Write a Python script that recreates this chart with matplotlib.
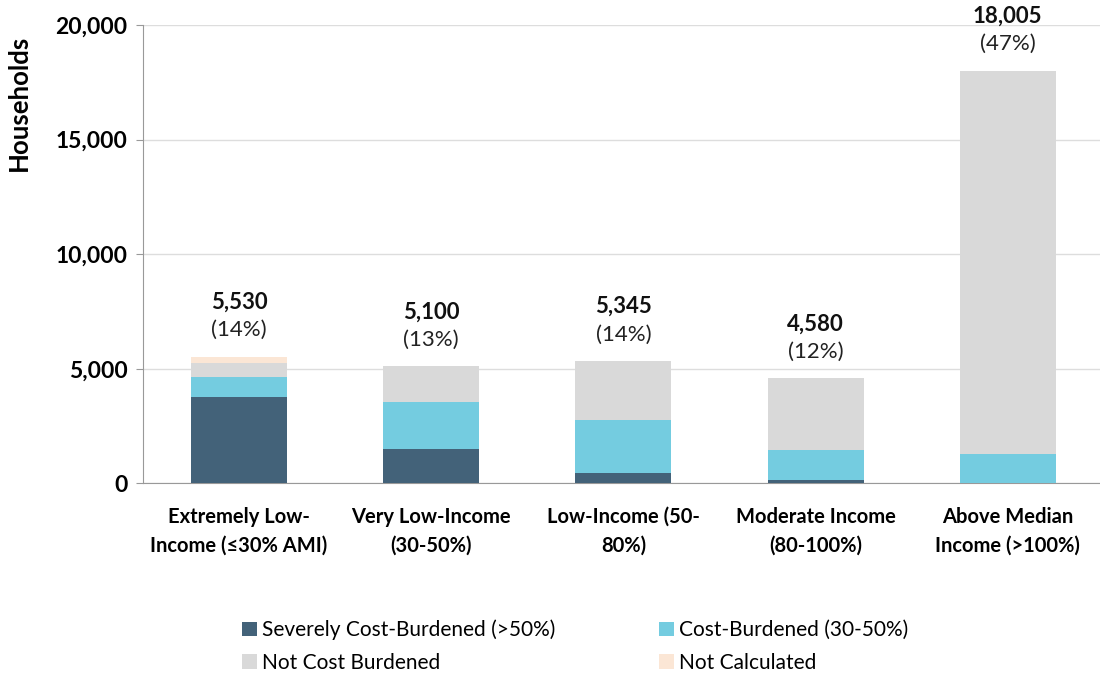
import matplotlib.pyplot as plt

plt.rcParams['font.family'] = ['Lato', 'DejaVu Sans']

categories = ["Extremely Low-\nIncome (≤30% AMI)", "Very Low-Income\n(30-50%)",
              "Low-Income (50-\n80%)", "Moderate Income\n(80-100%)",
              "Above Median\nIncome (>100%)"]
totals = [5530, 5100, 5345, 4580, 18005]

severe = [3750, 1500, 470, 130, 25]
burdened = [880, 2040, 2280, 1310, 1255]
not_burdened = [610, 1560, 2595, 3140, 16725]
not_calc = [290, 0, 0, 0, 0]

series = [
    ("Severely Cost-Burdened (>50%)", severe, "#436279"),
    ("Cost-Burdened (30-50%)", burdened, "#74CCE0"),
    ("Not Cost Burdened", not_burdened, "#D9D9D9"),
    ("Not Calculated", not_calc, "#FBE6D5"),
]

fig = plt.figure(figsize=(11, 6.75), dpi=100)
ax = fig.add_axes([0.13, 0.284, 0.87, 0.679])

x = range(len(categories))
bottom = [0] * len(categories)
bars = []
for name, vals, color in series:
    bars.append(ax.bar(x, vals, width=0.5, bottom=bottom, color=color, label=name, zorder=3))
    bottom = [b + v for b, v in zip(bottom, vals)]

grand = sum(totals)
for i, t in enumerate(totals):
    top = bottom[i]
    ax.annotate(f"{t:,}", (i, top), xytext=(0, 39), textcoords="offset points",
                ha="center", va="center", fontsize=16, fontweight="bold", color="#111111")
    ax.annotate(f"({t / grand:.0%})", (i, top), xytext=(0, 19), textcoords="offset points",
                ha="center", va="center", fontsize=16, color="#222222")

ax.set_xlim(-0.5, 4.48)
ax.set_ylim(0, 20000)
ax.set_yticks([0, 5000, 10000, 15000, 20000])
ax.set_yticklabels([f"{v:,}" for v in ax.get_yticks()], fontsize=16.5, fontweight="bold")
ax.set_xticks(list(x))
ax.set_xticklabels(categories, fontsize=14.5, fontweight="bold", linespacing=1.55)
ax.tick_params(axis="x", length=0, pad=17)
ax.tick_params(axis="y", length=5, color="#999999", pad=6)
ax.set_ylabel("Households", fontsize=18.5, fontweight="bold")
ax.yaxis.set_label_coords(-0.117, 0.83)

ax.grid(axis="y", color="#DDDDDD", linewidth=1, zorder=0)
for s in ["top", "right"]:
    ax.spines[s].set_visible(False)
ax.spines["left"].set_color("#999999")
ax.spines["bottom"].set_color("#999999")

# legend fills row by row in the reference
order = [0, 2, 1, 3]
fig.legend([bars[k] for k in order], [series[k][0] for k in order],
           loc="upper left", bbox_to_anchor=(0.203, 0.11), ncol=2, frameon=False,
           fontsize=15, handlelength=0.7, handleheight=0.7, handletextpad=0.25,
           columnspacing=5.0, labelspacing=0.62)

fig.savefig("out.png", dpi=100)
